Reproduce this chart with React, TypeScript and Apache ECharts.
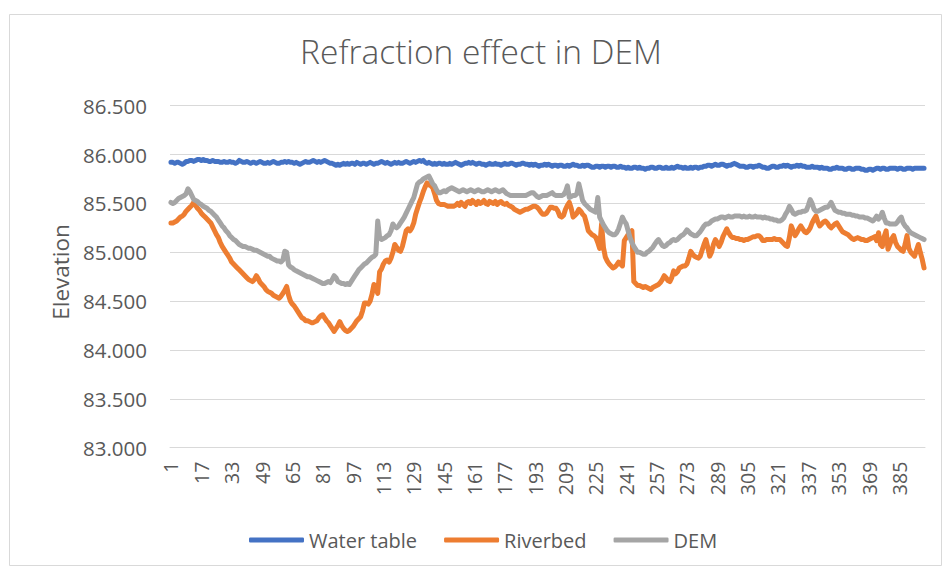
import React, { useEffect, useRef } from "react";
import * as echarts from "echarts";

const categories = Array.from({ length: 398 }, (_, i) => String(i + 1));

const waterTable = [
  85.92,85.92,85.91,85.92,85.92,85.91,85.90,85.91,85.93,85.93,
  85.94,85.94,85.93,85.94,85.95,85.95,85.94,85.95,85.94,85.94,
  85.93,85.93,85.94,85.93,85.93,85.93,85.92,85.92,85.93,85.92,
  85.92,85.93,85.92,85.92,85.91,85.92,85.94,85.93,85.92,85.92,
  85.93,85.92,85.91,85.92,85.92,85.91,85.92,85.93,85.92,85.91,
  85.91,85.92,85.91,85.92,85.93,85.92,85.91,85.91,85.92,85.92,
  85.93,85.92,85.93,85.92,85.92,85.91,85.92,85.91,85.90,85.91,
  85.92,85.93,85.92,85.92,85.93,85.94,85.93,85.92,85.93,85.92,
  85.93,85.94,85.93,85.92,85.91,85.91,85.90,85.89,85.90,85.89,
  85.90,85.91,85.90,85.91,85.90,85.91,85.91,85.90,85.92,85.91,
  85.90,85.91,85.91,85.90,85.91,85.92,85.91,85.90,85.91,85.91,
  85.92,85.93,85.92,85.91,85.92,85.91,85.90,85.91,85.92,85.91,
  85.92,85.91,85.91,85.92,85.93,85.92,85.91,85.92,85.93,85.92,
  85.93,85.94,85.93,85.94,85.92,85.91,85.92,85.91,85.90,85.91,
  85.90,85.91,85.91,85.90,85.91,85.90,85.90,85.91,85.90,85.91,
  85.92,85.91,85.90,85.89,85.90,85.91,85.91,85.92,85.91,85.92,
  85.91,85.90,85.91,85.91,85.90,85.90,85.89,85.90,85.91,85.90,
  85.90,85.91,85.90,85.90,85.89,85.90,85.91,85.90,85.90,85.91,
  85.91,85.90,85.89,85.90,85.90,85.91,85.91,85.90,85.90,85.89,
  85.90,85.89,85.90,85.89,85.88,85.89,85.89,85.90,85.89,85.90,
  85.89,85.88,85.89,85.89,85.88,85.89,85.89,85.88,85.88,85.89,
  85.88,85.89,85.90,85.89,85.89,85.88,85.88,85.89,85.88,85.89,
  85.89,85.88,85.87,85.87,85.88,85.88,85.87,85.88,85.88,85.87,
  85.88,85.88,85.87,85.88,85.88,85.87,85.87,85.88,85.87,85.87,
  85.86,85.87,85.86,85.86,85.87,85.87,85.86,85.87,85.86,85.86,
  85.85,85.86,85.86,85.87,85.87,85.86,85.86,85.87,85.87,85.86,
  85.86,85.87,85.86,85.86,85.87,85.86,85.87,85.88,85.87,85.87,
  85.86,85.87,85.86,85.86,85.87,85.86,85.87,85.87,85.86,85.87,
  85.87,85.88,85.88,85.89,85.89,85.88,85.89,85.90,85.89,85.89,
  85.90,85.90,85.89,85.88,85.89,85.89,85.90,85.91,85.90,85.89,
  85.88,85.88,85.88,85.87,85.87,85.88,85.88,85.87,85.88,85.88,
  85.89,85.88,85.87,85.87,85.86,85.86,85.87,85.88,85.88,85.87,
  85.87,85.88,85.88,85.89,85.88,85.89,85.88,85.87,85.88,85.88,
  85.89,85.88,85.89,85.88,85.88,85.87,85.87,85.87,85.88,85.87,
  85.87,85.87,85.86,85.87,85.86,85.86,85.86,85.85,85.85,85.86,
  85.86,85.87,85.86,85.86,85.86,85.85,85.85,85.86,85.86,85.85,
  85.85,85.86,85.86,85.86,85.85,85.85,85.84,85.84,85.85,85.85,
  85.84,85.85,85.86,85.86,85.85,85.86,85.86,85.85,85.85,85.86,
  85.86,85.86,85.86,85.85,85.86,85.86,85.85,85.85,85.86,85.86,
  85.86,85.85,85.86,85.86,85.86,85.86,85.86,85.86,
];

const riverbed = [
  85.30,85.30,85.31,85.32,85.34,85.36,85.37,85.39,85.42,85.44,
  85.46,85.48,85.51,85.48,85.45,85.43,85.40,85.38,85.36,85.34,
  85.32,85.30,85.26,85.22,85.18,85.15,85.10,85.06,85.03,85.00,
  84.97,84.94,84.90,84.88,84.86,84.84,84.82,84.80,84.78,84.76,
  84.74,84.72,84.71,84.70,84.72,84.76,84.73,84.69,84.67,84.65,
  84.62,84.60,84.59,84.58,84.56,84.55,84.54,84.53,84.55,84.58,
  84.61,84.65,84.56,84.50,84.47,84.45,84.42,84.39,84.36,84.33,
  84.32,84.30,84.30,84.29,84.28,84.28,84.29,84.30,84.33,84.35,
  84.36,84.33,84.30,84.28,84.25,84.22,84.19,84.22,84.25,84.29,
  84.25,84.22,84.20,84.19,84.20,84.22,84.24,84.27,84.30,84.32,
  84.34,84.40,84.48,84.48,84.47,84.50,84.57,84.67,84.63,84.58,
  84.80,84.83,84.88,84.91,84.92,84.90,84.94,85.00,85.08,85.05,
  85.02,85.01,85.06,85.14,85.22,85.24,85.22,85.25,85.30,85.39,
  85.45,85.51,85.56,85.62,85.67,85.71,85.69,85.68,85.66,85.60,
  85.53,85.50,85.49,85.49,85.49,85.48,85.47,85.47,85.47,85.47,
  85.48,85.50,85.48,85.51,85.49,85.47,85.51,85.52,85.50,85.53,
  85.51,85.49,85.52,85.50,85.51,85.53,85.50,85.49,85.52,85.51,
  85.50,85.52,85.49,85.51,85.52,85.50,85.49,85.50,85.48,85.47,
  85.46,85.44,85.43,85.42,85.41,85.42,85.43,85.44,85.44,85.45,
  85.46,85.47,85.47,85.46,85.44,85.41,85.39,85.39,85.40,85.43,
  85.46,85.46,85.45,85.45,85.42,85.37,85.36,85.38,85.44,85.48,
  85.51,85.45,85.36,85.38,85.40,85.44,85.42,85.39,85.37,85.30,
  85.22,85.20,85.18,85.17,85.15,85.10,85.04,85.29,85.05,84.95,
  84.91,84.88,84.86,84.84,84.85,84.87,84.90,84.88,84.86,85.12,
  85.15,85.18,85.20,85.22,84.70,84.68,84.66,84.66,84.65,84.64,
  84.65,84.64,84.63,84.62,84.64,84.65,84.66,84.67,84.69,84.72,
  84.76,84.74,84.71,84.70,84.74,84.81,84.78,84.80,84.84,84.85,
  84.86,84.86,84.88,84.94,85.01,84.98,84.96,84.95,84.94,84.96,
  85.02,85.08,85.13,85.05,84.96,85.00,85.08,85.13,85.10,85.06,
  85.10,85.16,85.20,85.24,85.20,85.17,85.15,85.15,85.14,85.14,
  85.13,85.13,85.12,85.13,85.13,85.14,85.15,85.16,85.16,85.17,
  85.17,85.15,85.12,85.12,85.13,85.13,85.13,85.13,85.14,85.13,
  85.13,85.13,85.11,85.09,85.07,85.06,85.15,85.27,85.22,85.17,
  85.20,85.24,85.27,85.24,85.21,85.20,85.22,85.25,85.30,85.34,
  85.37,85.31,85.27,85.29,85.31,85.32,85.30,85.27,85.25,85.27,
  85.29,85.30,85.27,85.24,85.21,85.20,85.19,85.18,85.16,85.14,
  85.13,85.14,85.15,85.14,85.13,85.13,85.12,85.12,85.13,85.14,
  85.15,85.16,85.12,85.20,85.08,85.06,85.16,85.22,85.03,85.08,
  85.14,85.17,85.10,85.06,85.04,85.02,85.01,85.08,85.17,85.04,
  85.00,84.98,84.96,85.02,85.08,85.00,84.93,84.84,
];

const dem = [
  85.51,85.50,85.51,85.53,85.55,85.56,85.57,85.58,85.60,85.65,
  85.62,85.58,85.54,85.53,85.52,85.50,85.49,85.47,85.46,85.45,
  85.43,85.42,85.40,85.38,85.36,85.33,85.30,85.27,85.25,85.22,
  85.20,85.17,85.15,85.13,85.12,85.10,85.08,85.07,85.06,85.06,
  85.05,85.04,85.04,85.03,85.02,85.02,85.01,85.00,84.99,84.98,
  84.97,84.96,84.96,84.94,84.93,84.92,84.91,84.91,84.90,84.92,
  85.01,85.00,84.87,84.85,84.84,84.82,84.81,84.80,84.79,84.78,
  84.77,84.76,84.75,84.75,84.74,84.73,84.72,84.71,84.70,84.69,
  84.68,84.68,84.69,84.70,84.69,84.72,84.76,84.74,84.70,84.69,
  84.68,84.68,84.67,84.68,84.67,84.70,84.73,84.76,84.79,84.82,
  84.84,84.86,84.88,84.89,84.91,84.93,84.95,84.96,84.98,85.32,
  85.15,85.13,85.14,85.15,85.17,85.18,85.22,85.29,85.26,85.25,
  85.27,85.30,85.33,85.36,85.40,85.44,85.48,85.52,85.56,85.63,
  85.70,85.72,85.73,85.75,85.76,85.77,85.78,85.74,85.70,85.68,
  85.64,85.61,85.61,85.62,85.63,85.62,85.64,85.65,85.66,85.65,
  85.64,85.63,85.62,85.63,85.64,85.63,85.62,85.63,85.64,85.63,
  85.62,85.63,85.64,85.63,85.62,85.62,85.63,85.64,85.63,85.62,
  85.63,85.64,85.63,85.62,85.63,85.64,85.62,85.60,85.59,85.58,
  85.58,85.58,85.58,85.58,85.58,85.58,85.58,85.58,85.59,85.60,
  85.61,85.61,85.59,85.57,85.56,85.57,85.58,85.58,85.58,85.59,
  85.60,85.61,85.59,85.58,85.58,85.58,85.58,85.59,85.62,85.68,
  85.56,85.57,85.58,85.58,85.60,85.70,85.62,85.53,85.50,85.48,
  85.46,85.44,85.43,85.42,85.41,85.56,85.36,85.32,85.28,85.25,
  85.22,85.20,85.19,85.18,85.18,85.20,85.24,85.30,85.36,85.32,
  85.29,85.22,85.15,85.10,85.06,85.03,85.00,85.00,84.99,84.98,
  84.98,85.00,85.01,85.03,85.05,85.08,85.11,85.13,85.10,85.07,
  85.06,85.07,85.09,85.10,85.12,85.13,85.12,85.13,85.15,85.17,
  85.18,85.20,85.23,85.21,85.19,85.18,85.17,85.17,85.19,85.21,
  85.24,85.27,85.29,85.29,85.30,85.32,85.33,85.34,85.34,85.35,
  85.36,85.36,85.35,85.36,85.37,85.36,85.36,85.37,85.37,85.37,
  85.37,85.36,85.37,85.36,85.36,85.37,85.36,85.36,85.37,85.36,
  85.36,85.36,85.35,85.36,85.35,85.35,85.34,85.34,85.33,85.33,
  85.32,85.32,85.33,85.35,85.39,85.42,85.47,85.44,85.40,85.39,
  85.40,85.41,85.41,85.42,85.42,85.43,85.48,85.54,85.50,85.44,
  85.42,85.42,85.43,85.44,85.45,85.46,85.46,85.48,85.51,85.47,
  85.43,85.42,85.41,85.41,85.40,85.40,85.39,85.39,85.39,85.38,
  85.38,85.37,85.37,85.36,85.36,85.36,85.35,85.35,85.34,85.33,
  85.32,85.34,85.37,85.34,85.36,85.41,85.35,85.30,85.30,85.29,
  85.29,85.29,85.29,85.31,85.34,85.36,85.30,85.27,85.25,85.22,
  85.20,85.19,85.18,85.17,85.16,85.15,85.14,85.13,
];

const seriesNames = ["Water table", "Riverbed", "DEM"];
const seriesColors = ["#4472C4", "#ED7D31", "#A5A5A5"];
const chartTitle = "Refraction effect in DEM";
const yAxisTitle = "Elevation";

const FONT = "'Open Sans', 'Liberation Sans', sans-serif";
const TEXT = "#595959";

export default function App() {
  const ref = useRef<HTMLDivElement>(null);
  useEffect(() => {
    if (!ref.current) return;
    const chart = echarts.init(ref.current, null, { renderer: "svg" });
    const dataSets = [waterTable, riverbed, dem];
    chart.setOption({
      animation: false,
      backgroundColor: "#ffffff",
      textStyle: { fontFamily: FONT, color: TEXT },
      grid: { left: 170, top: 105.7, width: 755, height: 342, containLabel: false },
      legend: {
        data: seriesNames,
        left: 244,
        top: 525,
        icon: "roundRect",
        itemWidth: 55,
        itemHeight: 5,
        itemGap: 27,
        textStyle: { fontFamily: FONT, fontSize: 20, color: TEXT },
      },
      xAxis: {
        type: "category",
        data: categories,
        boundaryGap: true,
        axisLine: { show: true, lineStyle: { color: "#d9d9d9", width: 1 } },
        axisTick: { show: false },
        axisLabel: {
          interval: 15,
          rotate: 90,
          margin: 14,
          fontFamily: FONT,
          fontSize: 19.5,
          color: TEXT,
        },
        splitLine: { show: false },
      },
      yAxis: {
        type: "value",
        min: 83,
        max: 86.5,
        interval: 0.5,
        axisLine: { show: false },
        axisTick: { show: false },
        axisLabel: {
          margin: 23,
          fontFamily: FONT,
          fontSize: 20.5,
          color: TEXT,
          formatter: (v: number) => v.toFixed(3),
        },
        splitLine: { show: true, lineStyle: { color: "#d9d9d9", width: 1 } },
      },
      graphic: [
        {
          type: "rect",
          silent: true,
          shape: { x: 9.5, y: 14.5, width: 932, height: 551 },
          style: { fill: "none", stroke: "#d9d9d9", lineWidth: 1 },
          z: -10,
        },
        {
          type: "text",
          x: 481,
          y: 51,
          style: {
            text: chartTitle,
            fontFamily: FONT,
            fontSize: 33.5,
            fontWeight: 300,
            fill: TEXT,
            textAlign: "center",
            textVerticalAlign: "middle",
          },
        },
        {
          type: "text",
          x: 60,
          y: 272,
          rotation: Math.PI / 2,
          style: {
            text: yAxisTitle,
            fontFamily: FONT,
            fontSize: 22.5,
            fill: TEXT,
            textAlign: "center",
            textVerticalAlign: "middle",
          },
        },
      ],
      series: seriesNames.map((name, k) => ({
        name,
        type: "line",
        data: dataSets[k],
        symbol: "none",
        showSymbol: false,
        color: seriesColors[k],
        lineStyle: { color: seriesColors[k], width: 5, cap: "round", join: "round" },
        z: 2 + k,
      })),
    });
    return () => chart.dispose();
  }, []);
  return (
    <div
      ref={ref}
      style={{ position: "fixed", left: 0, top: 0, width: 945, height: 571 }}
    />
  );
}
